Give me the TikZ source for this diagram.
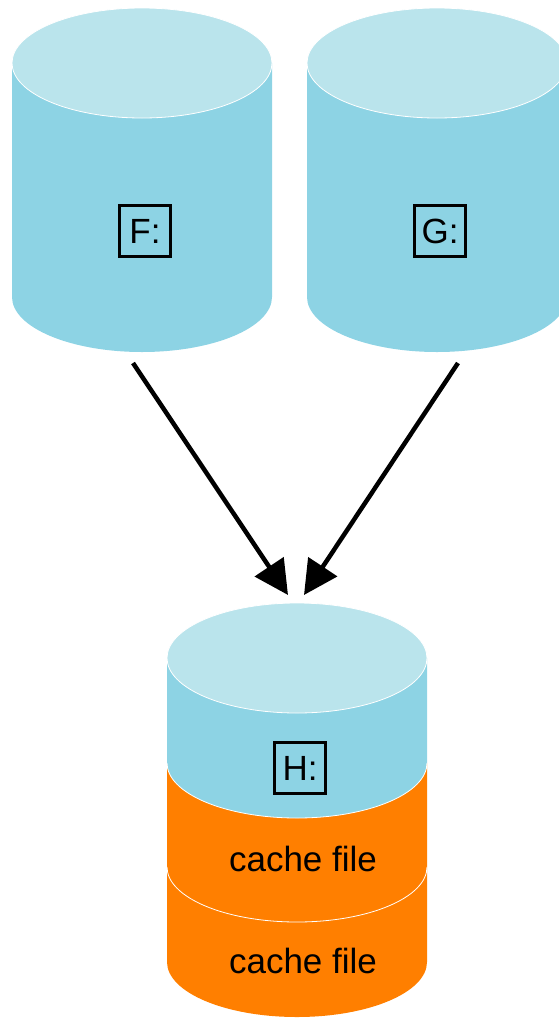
\documentclass[tikz,border=0pt]{standalone}
\usepackage{fontspec}
\setmainfont{Liberation Sans}
\usepackage{xcolor}
\definecolor{dbtop}{RGB}{186,228,236}
\definecolor{dbbody}{RGB}{141,211,228}
\definecolor{cacheorange}{RGB}{255,127,0}
\usetikzlibrary{arrows.meta}
\tikzset{
  drivelabel/.style={draw=black,line width=2.5pt,minimum width=51pt,minimum height=51pt,inner sep=0pt,font=\fontsize{35}{42}\selectfont},
  cachelabel/.style={anchor=base,inner sep=0pt,font=\fontsize{35}{42}\selectfont},
  flow/.style={line width=4.5pt,-{Triangle[length=34pt,width=34pt]}},
  rim/.style={draw=white,line width=0.8pt},
  half/.style={start angle=180,end angle=360,x radius=130pt,y radius=55pt},
}

\begin{document}
\begin{tikzpicture}[x=1pt,y=-1pt]
\useasboundingbox (0,0) rectangle (559,1018);
\fill[dbbody] (12,63) -- (12,297) arc[half] -- (272,63) -- cycle;
\path[fill=dbtop,rim] (142,63) ellipse[x radius=130pt,y radius=55pt];
\fill[dbbody] (307,63) -- (307,297) arc[half] -- (567,63) -- cycle;
\path[fill=dbtop,rim] (437,63) ellipse[x radius=130pt,y radius=55pt];
\fill[cacheorange] (167,867) -- (167,962) arc[half] -- (427,867) -- cycle;
\fill[cacheorange] (167,763) -- (167,867) arc[half] -- (427,763) -- cycle;
\draw[rim] (167,867) arc[half];
\fill[dbbody] (167,658) -- (167,763) arc[half] -- (427,658) -- cycle;
\draw[rim] (167,763) arc[half];
\path[fill=dbtop,rim] (297,658) ellipse[x radius=130pt,y radius=55pt];
\node[drivelabel] (F) at (145,231) {F:};
\node[drivelabel] (G) at (440,231) {G:};
\node[drivelabel] (H) at (300,768) {H:};
\node[cachelabel] (c1) at (303,871) {cache file};
\node[cachelabel] (c2) at (303,973) {cache file};
\coordinate (Fout) at (133,363);
\coordinate (Gout) at (458,363);
\coordinate (HinF) at (288,595);
\coordinate (HinG) at (304,595);
\draw[flow] (Fout) -- (HinF);
\draw[flow] (Gout) -- (HinG);
\end{tikzpicture}
\end{document}
